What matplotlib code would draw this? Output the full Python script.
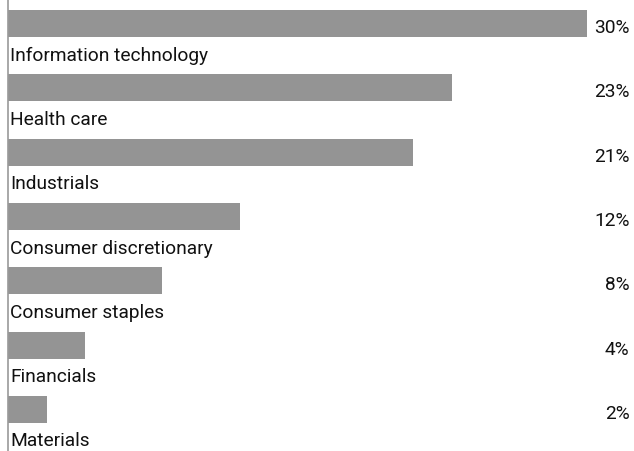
import numpy as np
from matplotlib import pyplot as plt

plt.rcParams["font.family"] = ["Roboto", "DejaVu Sans"]

sectors = ["Information technology", "Health care", "Industrials",
           "Consumer discretionary", "Consumer staples", "Financials", "Materials"]
weights = [30, 23, 21, 12, 8, 4, 2]
labels = ["30%", "23%", "21%", "12%", "8%", "4%", "2%"]

fig = plt.figure(figsize=(6.34, 4.51), dpi=100)
ax = fig.add_axes([8 / 634, 0, 1 - 8 / 634, 1])

index = np.arange(len(sectors))
ax.barh(index, weights, height=0.42, color="#949494", left=0)

for i, (name, lab) in enumerate(zip(sectors, labels)):
    ax.text(0.1, i + 0.5, name, ha="left", va="center", fontsize=13.8, color="#111111")
    ax.text(32.2, i + 0.07, lab, ha="right", va="center", fontsize=13.8, color="#111111")

ax.set_xlim(0, 32.43)
ax.set_ylim(6.648, -0.365)
ax.set_xticks([])
ax.set_yticks([])
for s in ["top", "right", "bottom"]:
    ax.spines[s].set_visible(False)
ax.spines["left"].set_color("#999999")
ax.spines["left"].set_linewidth(1.2)

fig.savefig("out.png", dpi=100)
plt.close()
